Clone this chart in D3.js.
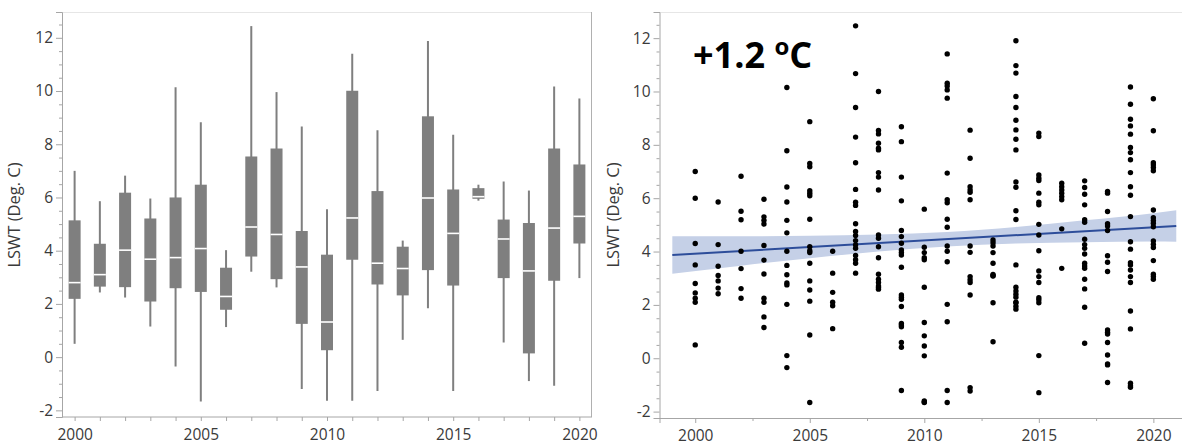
<!DOCTYPE html>
<html>
<head>
<meta charset="utf-8">
<script src="https://cdn.jsdelivr.net/npm/d3@7"></script>
<style>
	body { margin: 0; background: #fff; }
	svg { display: block; }
	text { font-family: "Open Sans", "Noto Sans", sans-serif; }
</style>
</head>
<body>
<svg id="chart" width="1182" height="446"></svg>
<script>
	'use strict';

	// categories (one box / one column of points per year)
	var years = [2000, 2001, 2002, 2003, 2004, 2005, 2006, 2007, 2008, 2009, 2010,
		2011, 2012, 2013, 2014, 2015, 2016, 2017, 2018, 2019, 2020];

	// left panel: box plot statistics
	var boxHigh = [7.0, 5.86, 6.82, 5.96, 10.14, 8.83, 4.02, 12.44, 9.96, 8.67, 5.56, 11.4, 8.53, 4.38, 11.88, 8.36, 6.48, 6.6, 6.26, 10.17, 9.72];
	var boxQ3 = [5.14, 4.26, 6.18, 5.21, 6.0, 6.48, 3.36, 7.54, 7.84, 4.74, 3.85, 10.01, 6.24, 4.15, 9.05, 6.3, 6.35, 5.17, 5.04, 7.84, 7.24];
	var boxMedian = [2.8, 3.1, 4.02, 3.68, 3.74, 4.08, 2.28, 4.89, 4.61, 3.39, 1.32, 5.23, 3.53, 3.33, 5.98, 4.65, 6.03, 4.44, 3.24, 4.85, 5.29];
	var boxQ1 = [2.19, 2.65, 2.63, 2.09, 2.59, 2.45, 1.78, 3.78, 2.93, 1.25, 0.26, 3.66, 2.73, 2.32, 3.27, 2.69, 5.95, 2.97, 0.14, 2.87, 4.27];
	var boxLow = [0.5, 2.43, 2.24, 1.15, -0.35, -1.67, 1.13, 3.21, 2.62, -1.2, -1.64, -1.64, -1.27, 0.65, 1.84, -1.27, 5.88, 0.55, -0.9, -1.08, 2.97];

	// right panel: individual LSWT readings per year (same order as years)
	var yearlyReadings = [
		[7.0, 6.0, 4.3, 3.5, 2.8, 2.45, 2.25, 2.1, 0.5],
		[5.86, 4.26, 3.45, 3.1, 2.9, 2.63, 2.42],
		[6.82, 5.51, 5.19, 4.01, 3.36, 2.61, 2.25],
		[5.96, 5.3, 5.17, 5.03, 4.23, 3.68, 3.16, 2.25, 2.1, 1.55, 1.15],
		[10.15, 7.78, 6.42, 5.86, 5.17, 4.7, 4.01, 3.48, 3.13, 2.82, 2.75, 2.02, 0.1, -0.35],
		[8.87, 7.3, 7.18, 6.28, 6.19, 6.09, 5.21, 4.18, 4.03, 3.96, 3.56, 2.9, 2.56, 2.14, 0.87, -1.66],
		[4.01, 3.19, 2.47, 2.1, 1.97, 1.11],
		[12.46, 10.67, 9.4, 8.29, 7.33, 6.33, 5.85, 5.73, 5.04, 4.75, 4.6, 4.41, 4.25, 4.12, 3.85, 3.69, 3.56, 3.19],
		[10.0, 8.54, 8.41, 8.06, 7.87, 7.81, 6.96, 6.79, 6.31, 4.62, 4.5, 4.18, 3.77, 3.15, 2.96, 2.84, 2.71, 2.65, 2.59],
		[8.68, 8.12, 6.79, 5.9, 4.79, 4.56, 4.31, 4.06, 3.96, 3.87, 3.41, 2.37, 2.29, 2.21, 1.94, 1.3, 1.25, 1.18, 0.59, 0.41, -1.21],
		[5.59, 4.16, 3.96, 3.77, 3.69, 2.66, 1.34, 0.84, 0.46, 0.09, -1.6, -1.64, -1.66],
		[11.41, 10.31, 10.21, 10.06, 9.75, 6.94, 5.94, 5.83, 5.21, 4.91, 4.21, 4.01, 3.62, 2.02, 1.37, -1.21, -1.66],
		[8.55, 7.5, 6.43, 6.31, 6.22, 5.94, 4.21, 3.97, 3.06, 2.94, 2.84, 2.37, -1.1, -1.23],
		[4.43, 4.33, 4.21, 3.96, 3.56, 3.14, 3.1, 3.08, 2.08, 0.62],
		[11.9, 10.97, 10.69, 9.81, 9.4, 8.92, 8.56, 8.21, 7.81, 6.61, 6.41, 5.53, 5.2, 3.5, 2.66, 2.52, 2.4, 2.29, 2.1, 2.08, 1.95, 1.84],
		[8.44, 8.31, 6.87, 6.75, 6.66, 6.19, 5.85, 5.75, 5.02, 4.62, 4.03, 3.27, 3.06, 2.84, 2.27, 2.19, 2.08, 0.1, -1.29],
		[6.56, 6.43, 6.31, 6.19, 6.06, 5.94, 4.85, 3.37],
		[6.65, 6.4, 6.15, 5.75, 5.19, 5.1, 4.46, 4.26, 4.12, 3.91, 3.56, 3.46, 3.37, 2.96, 2.6, 1.91, 0.56],
		[6.25, 6.19, 5.5, 5.04, 4.96, 4.79, 3.84, 3.6, 3.25, 1.06, 0.97, 0.91, 0.59, 0.12, -0.21, -0.25, -0.91],
		[10.17, 9.52, 8.96, 8.71, 8.4, 7.9, 7.71, 7.44, 6.96, 6.43, 6.11, 5.31, 4.37, 4.09, 3.58, 3.5, 3.31, 3.06, 2.84, 1.77, 1.1, -0.94, -1.03, -1.09],
		[9.73, 8.53, 7.33, 7.25, 7.15, 7.03, 5.56, 5.27, 5.16, 5.06, 4.93, 4.4, 4.27, 4.15, 3.66, 3.15, 3.06, 2.96]
	];

	// fitted line and its confidence band, read at a few years
	var fitYears = [1999, 2021];
	var fitValues = [3.87, 4.96];
	var bandYears = [1999, 2002, 2005, 2008, 2011, 2014, 2017, 2020, 2021];
	var bandLow = [3.17, 3.47, 3.75, 4.0, 4.19, 4.3, 4.35, 4.38, 4.37];
	var bandHigh = [4.57, 4.57, 4.59, 4.64, 4.73, 4.92, 5.17, 5.44, 5.55];

	// tick labels
	var yTicks = [-2, 0, 2, 4, 6, 8, 10, 12];
	var yMinorTicks = [-1.5, -1, -0.5, 0.5, 1, 1.5, 2.5, 3, 3.5, 4.5, 5, 5.5, 6.5, 7, 7.5, 8.5, 9, 9.5, 10.5, 11, 11.5, 12.5];
	var xLabelYears = [2000, 2005, 2010, 2015, 2020];
	var xMinorYears = [2002.5, 2007.5, 2012.5, 2017.5];
	var yTitle = 'LSWT (Deg. C)';
	var annotation = '+1.2 ';

	var svg = d3.select('#chart');
	var axisColor = '#a6a6a6';
	var labelColor = '#3a3a3a';

	function styleAxis(g) {
		g.select('.domain').attr('stroke', axisColor);
		g.selectAll('.tick line').attr('stroke', axisColor);
		g.selectAll('.tick text').attr('fill', labelColor).style('font-size', '15.5px');
	}

	function drawFrame(left, right, top, bottom, showRight) {
		svg.append('line')
			.attr('x1', left).attr('x2', right).attr('y1', top + 0.5).attr('y2', top + 0.5)
			.attr('stroke', '#e6e6e6');
		if (showRight) {
			svg.append('line')
				.attr('x1', right - 0.5).attr('x2', right - 0.5).attr('y1', top).attr('y2', bottom)
				.attr('stroke', '#b0b0b0');
		}
	}

	function drawYAxis(y, xPos, titleX, midY) {
		var g = svg.append('g')
			.attr('transform', 'translate(' + xPos + ',0)')
			.call(d3.axisLeft(y).tickValues(yTicks).tickSize(6).tickPadding(3).tickFormat(d3.format('d')));
		styleAxis(g);
		g.selectAll('.tick text').text(function (d) { return d < 0 ? '-' + Math.abs(d) : d; });
		var m = svg.append('g')
			.attr('transform', 'translate(' + xPos + ',0)')
			.call(d3.axisLeft(y).tickValues(yMinorTicks).tickSize(3).tickFormat(''));
		m.select('.domain').remove();
		m.selectAll('.tick line').attr('stroke', axisColor);

		svg.append('text')
			.attr('transform', 'translate(' + titleX + ',' + midY + ') rotate(-90)')
			.attr('text-anchor', 'middle')
			.attr('fill', labelColor)
			.style('font-size', '16.5px')
			.text(yTitle);
	}

	// ---------- left panel : box plots ----------
	var L = {left: 62, right: 592, top: 12, bottom: 417};
	var xBox = d3.scalePoint().domain(years).range([L.left, L.right]).padding(0.5);
	var yBox = d3.scaleLinear().domain([-2.25, 12.97]).range([L.bottom, L.top]);

	drawFrame(L.left, L.right, L.top, L.bottom, true);

	var gx = svg.append('g')
		.attr('transform', 'translate(0,' + L.bottom + ')')
		.call(d3.axisBottom(xBox).tickSize(4).tickPadding(8)
			.tickFormat(function (d) { return xLabelYears.indexOf(d) >= 0 ? d : ''; }));
	styleAxis(gx);
	gx.select('.domain').attr('d', 'M' + L.left + ',0H' + L.right);

	drawYAxis(yBox, L.left, 20, 215);

	var boxW = 12;
	var boxes = svg.append('g').selectAll('g').data(years).enter().append('g');
	boxes.append('line')
		.attr('x1', function (d) { return xBox(d); })
		.attr('x2', function (d) { return xBox(d); })
		.attr('y1', function (d, i) { return yBox(boxHigh[i]); })
		.attr('y2', function (d, i) { return yBox(boxLow[i]); })
		.attr('stroke', '#7f7f7f').attr('stroke-width', 2);
	boxes.append('rect')
		.attr('x', function (d) { return xBox(d) - boxW / 2; })
		.attr('width', boxW)
		.attr('y', function (d, i) { return yBox(boxQ3[i]); })
		.attr('height', function (d, i) { return yBox(boxQ1[i]) - yBox(boxQ3[i]); })
		.attr('fill', '#7f7f7f');
	boxes.append('line')
		.attr('x1', function (d) { return xBox(d) - boxW / 2; })
		.attr('x2', function (d) { return xBox(d) + boxW / 2; })
		.attr('y1', function (d, i) { return yBox(boxMedian[i]); })
		.attr('y2', function (d, i) { return yBox(boxMedian[i]); })
		.attr('stroke', '#ffffff').attr('stroke-width', 1.6);

	// ---------- right panel : points + fit ----------
	var R = {left: 659.5, right: 1182, top: 12, bottom: 418};
	var xFit = d3.scaleLinear().domain([1998.44, 2021.25]).range([R.left, R.right]);
	var yFit = d3.scaleLinear().domain([-2.24, 12.98]).range([R.bottom, R.top]);

	drawFrame(R.left, R.right, R.top, R.bottom, false);

	var gx2 = svg.append('g')
		.attr('transform', 'translate(0,' + R.bottom + ')')
		.call(d3.axisBottom(xFit).tickValues(xLabelYears).tickSize(5).tickPadding(7).tickFormat(d3.format('d')));
	styleAxis(gx2);
	var gx2m = svg.append('g')
		.attr('transform', 'translate(0,' + R.bottom + ')')
		.call(d3.axisBottom(xFit).tickValues(xMinorYears).tickSize(3).tickFormat(''));
	gx2m.select('.domain').remove();
	gx2m.selectAll('.tick line').attr('stroke', axisColor);

	drawYAxis(yFit, R.left, 619, 215);

	var bandData = bandYears.map(function (yr, i) { return {x: yr, lo: bandLow[i], hi: bandHigh[i]}; });
	svg.append('path')
		.datum(bandData)
		.attr('fill', '#c5d0e7')
		.attr('d', d3.area()
			.curve(d3.curveMonotoneX)
			.x(function (d) { return xFit(d.x); })
			.y0(function (d) { return yFit(d.lo); })
			.y1(function (d) { return yFit(d.hi); }));

	svg.append('path')
		.datum(fitYears.map(function (yr, i) { return {x: yr, y: fitValues[i]}; }))
		.attr('fill', 'none')
		.attr('stroke', '#2d4d9a')
		.attr('stroke-width', 2)
		.attr('d', d3.line()
			.x(function (d) { return xFit(d.x); })
			.y(function (d) { return yFit(d.y); }));

	var pts = [];
	years.forEach(function (yr, i) {
		yearlyReadings[i].forEach(function (v) { pts.push({x: yr, y: v}); });
	});
	svg.append('g').selectAll('circle').data(pts).enter().append('circle')
		.attr('cx', function (d) { return xFit(d.x); })
		.attr('cy', function (d) { return yFit(d.y); })
		.attr('r', 2.7)
		.attr('fill', '#000');

	var ann = svg.append('text')
		.attr('x', 693).attr('y', 68)
		.attr('fill', '#000')
		.style('font-size', '36px')
		.style('font-weight', 700)
		.style('font-family', '"Open Sans", sans-serif');
	ann.append('tspan').text(annotation);
	ann.append('tspan').attr('dy', -13).style('font-size', '24px').text('o');
	ann.append('tspan').attr('dy', 13).text('C');
</script>
</body>
</html>
